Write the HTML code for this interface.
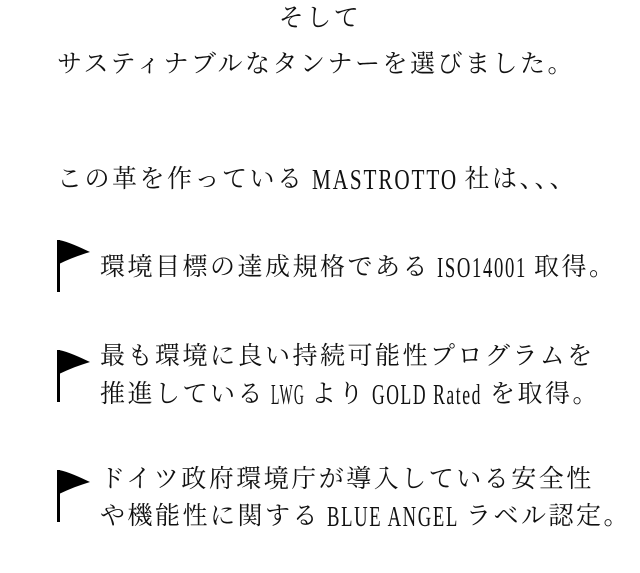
<!DOCTYPE html>
<html><head><meta charset="utf-8"><style>
html,body{margin:0;padding:0;background:#fff;}
body{width:640px;height:573px;position:relative;overflow:hidden;font-family:"Liberation Serif","Noto Serif CJK JP","Noto Serif CJK SC",serif;color:#111;}
.l{position:absolute;white-space:nowrap;font-size:25px;line-height:30px;letter-spacing:2.5px;}
.e{display:inline-block;vertical-align:-4px;overflow:visible;}
.e text{font-family:"Liberation Serif",serif;font-size:28px;fill:#111;}
svg.f{position:absolute;}
</style></head><body>
<div class="l" style="left:0;width:640px;text-align:center;top:4px;">そして</div>
<div class="l" style="left:57px;top:50px;">サスティナブルなタンナーを選びました。</div>
<div class="l" style="left:57px;top:165px;">この革を作っている<svg class="e" width="160" height="26"><text x="7" y="24" textLength="146" lengthAdjust="spacingAndGlyphs">MASTROTTO</text></svg>社は、、、</div>

<svg class="f" style="left:54px;top:238px" width="40" height="56"><path d="M3 2 L6 2 L6 54 L3 54 Z" fill="#000"/><path d="M5 2 C15 4 25 9 36 14 C26 17 15 21 5 26 Z" fill="#000"/></svg>
<div class="l" style="left:100px;top:253px;">環境目標の達成規格である<svg class="e" width="104" height="26"><text x="7" y="24" textLength="90" lengthAdjust="spacingAndGlyphs">ISO14001</text></svg>取得。</div>

<svg class="f" style="left:54px;top:348px" width="40" height="56"><path d="M3 2 L6 2 L6 54 L3 54 Z" fill="#000"/><path d="M5 2 C15 4 25 9 36 14 C26 17 15 21 5 26 Z" fill="#000"/></svg>
<div class="l" style="left:100px;top:342px;">最も環境に良い持続可能性プログラムを</div>
<div class="l" style="left:100px;top:380px;">推進している<svg class="e" width="46" height="26"><text x="6" y="24" textLength="34" lengthAdjust="spacingAndGlyphs">LWG</text></svg>より<svg class="e" width="124" height="26"><text x="6" y="24" textLength="110" lengthAdjust="spacingAndGlyphs">GOLD Rated</text></svg>を取得。</div>

<svg class="f" style="left:54px;top:468px" width="40" height="56"><path d="M3 2 L6 2 L6 54 L3 54 Z" fill="#000"/><path d="M5 2 C15 4 25 9 36 14 C26 17 15 21 5 26 Z" fill="#000"/></svg>
<div class="l" style="left:100px;top:465px;">ドイツ政府環境庁が導入している安全性</div>
<div class="l" style="left:100px;top:502px;">や機能性に関する<svg class="e" width="146" height="26"><text x="7" y="24" textLength="132" lengthAdjust="spacingAndGlyphs">BLUE ANGEL</text></svg>ラベル認定。</div>
</body></html>
